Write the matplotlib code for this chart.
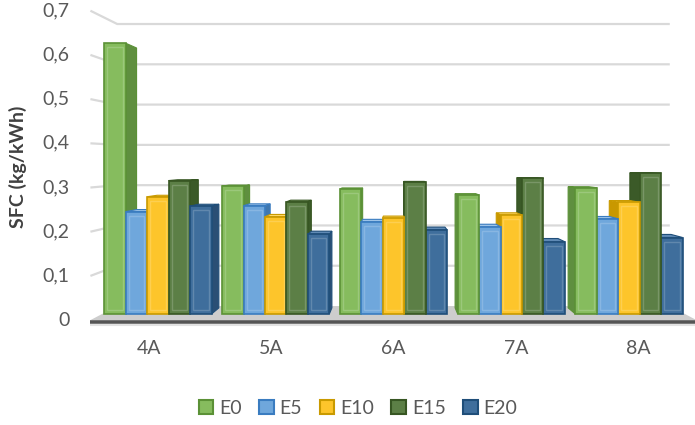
import numpy as np
import matplotlib.pyplot as plt
from matplotlib.patches import Polygon, Patch

plt.rcParams['font.family'] = ['Lato', 'DejaVu Sans']

categories = ['4A', '5A', '6A', '7A', '8A']
series = ['E0', 'E5', 'E10', 'E15', 'E20']
e0 = [0.637, 0.301, 0.294, 0.280, 0.297]
e5 = [0.241, 0.255, 0.217, 0.205, 0.224]
e10 = [0.276, 0.229, 0.225, 0.233, 0.263]
e15 = [0.314, 0.264, 0.310, 0.319, 0.331]
e20 = [0.254, 0.188, 0.198, 0.170, 0.180]
yticks = [0, 0.1, 0.2, 0.3, 0.4, 0.5, 0.6, 0.7]
ytick_labels = ['0', '0,1', '0,2', '0,3', '0,4', '0,5', '0,6', '0,7']

values = [e0, e5, e10, e15, e20]
# front, side, top, edge
styles = [
    ('#86bc5e', '#5f8f3f', '#a6d285', '#5b9136'),
    ('#6fa7dc', '#3f77ae', '#9cc3e8', '#3a7cc0'),
    ('#fdc52b', '#c99800', '#ffd966', '#c99a00'),
    ('#5c7f46', '#3b5a28', '#7a9a63', '#375623'),
    ('#3f6e9c', '#2a4f75', '#5f8ab5', '#1f4e79'),
]

# simple perspective: everything shrinks toward a vanishing point with depth
vp_x, vp_y = (len(categories) - 1) / 2, 0.36
s_front, s_bar_back, s_wall = 1.04, 0.96, 0.948
x_lo, x_hi = -0.475, len(categories) - 1 + 0.475
bw = 0.182


def proj(x, y, s):
    return vp_x + s * (x - vp_x), vp_y + s * (y - vp_y)


fig = plt.figure(figsize=(6.95, 4.25), dpi=100)
ax = fig.add_axes([0, 0, 1, 1])
ax.set_xlim(-158 / 117.75, 537 / 117.75)
ax.set_ylim(-111 / 425, 314 / 425)
ax.axis('off')

# walls
for v in yticks[1:]:
    bx0, by0 = proj(x_lo, v, s_wall)
    bx1, by1 = proj(x_hi, v, s_wall)
    fx, fy = proj(x_lo, v, s_front)
    ax.plot([fx, bx0, bx1], [fy, by0, by1], color='#d9d9d9', lw=1.6, zorder=1,
            solid_capstyle='butt')

# floor
floor = [proj(x_lo, 0, s_front), proj(x_hi, 0, s_front),
         proj(x_hi, 0, s_wall), proj(x_lo, 0, s_wall)]
ax.add_patch(Polygon(floor, closed=True, facecolor='#cdcdcd', edgecolor='none', zorder=2))
fl = proj(x_lo, 0, s_front)
fr = proj(x_hi, 0, s_front)
ax.plot([fl[0], fr[0]], [fl[1] - 1.5 / 425, fr[1] - 1.5 / 425], color='#555555', lw=2.6,
        zorder=3, solid_capstyle='butt')
ax.plot([fl[0], fr[0]], [fl[1] - 4.5 / 425, fr[1] - 4.5 / 425], color='#e2e2e2', lw=1.5,
        zorder=3, solid_capstyle='butt')

# bars, painted from the outside toward the vanishing point
bars = []
for i in range(len(categories)):
    for j in range(len(series)):
        x0 = i - 2.5 * bw + j * bw
        bars.append((abs(x0 + bw / 2 - vp_x), x0, values[j][i], styles[j]))
bars.sort(key=lambda b: -b[0])

z = 4
for _, x0, v, (fc, sc, tc, ec) in bars:
    x1 = x0 + bw
    if x0 + bw / 2 < vp_x:
        side = [(x1, 0), (x1, v), proj(x1, v, s_bar_back), proj(x1, 0, s_bar_back)]
    else:
        side = [(x0, 0), (x0, v), proj(x0, v, s_bar_back), proj(x0, 0, s_bar_back)]
    ax.add_patch(Polygon(side, closed=True, facecolor=sc, edgecolor=ec, lw=0.8, zorder=z))
    if v < vp_y:
        top = [(x0, v), (x1, v), proj(x1, v, s_bar_back), proj(x0, v, s_bar_back)]
        ax.add_patch(Polygon(top, closed=True, facecolor=tc, edgecolor=ec, lw=0.8, zorder=z))
    ax.add_patch(Polygon([(x0, 0), (x1, 0), (x1, v), (x0, v)], closed=True,
                         facecolor=fc, edgecolor=ec, lw=1.2, zorder=z + 0.5))
    # bevel highlight
    ix, iy = 0.025, 4 / 425
    ax.add_patch(Polygon([(x0 + ix, iy), (x1 - ix, iy), (x1 - ix, v - iy), (x0 + ix, v - iy)],
                         closed=True, facecolor='none', edgecolor='white', alpha=0.18,
                         lw=1.0, zorder=z + 0.6))
    z += 1

# axis labels
for v, lab in zip(yticks, ytick_labels):
    _, fy = proj(x_lo, v, s_front)
    ax.text(-0.75, fy, lab, ha='right', va='center', fontsize=14, color='#595959')
for i, lab in enumerate(categories):
    fx, _ = proj(i, 0, s_front)
    ax.text(fx, -35 / 425, lab, ha='center', va='center', fontsize=14, color='#595959')

fig.text(18 / 695, 1 - 167 / 425, 'SFC (kg/kWh)', rotation=90, ha='center', va='center',
         fontsize=14, fontweight='bold', color='#404040')

handles = [Patch(facecolor=s[0], edgecolor=s[3], lw=1.5) for s in styles]
fig.legend(handles, series, loc='center', bbox_to_anchor=(358 / 695, 1 - 408 / 425), ncol=5,
           frameon=False, fontsize=14, labelcolor='#595959', handlelength=0.75,
           handleheight=0.75, handletextpad=0.3, columnspacing=0.9)

fig.savefig('out.png', dpi=100)
